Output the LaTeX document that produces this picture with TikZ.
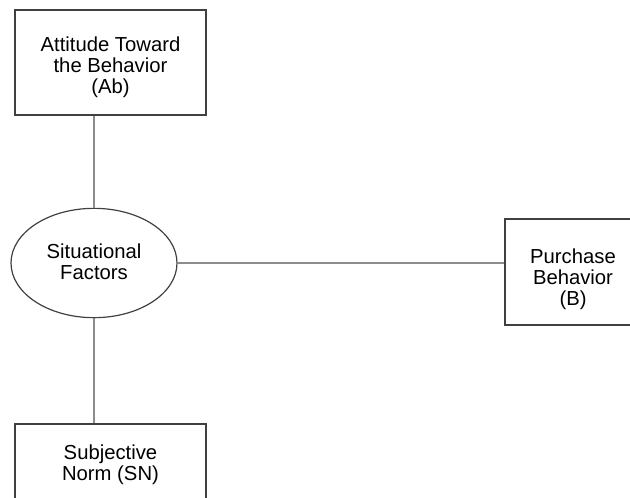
\documentclass[tikz,border=0pt]{standalone}
\usepackage{fontspec}
\setmainfont{Liberation Sans}
\usepackage{tikz}
\usetikzlibrary{shapes.geometric}

% text of a factor, shifted up or down from the centre of its shape
\newcommand{\factortext}[2]{\smash{\raisebox{#1}{\begin{tabular}{@{}c@{}}#2\end{tabular}}}}

\begin{document}
\begin{tikzpicture}[x=0.75pt,y=-0.75pt,
    factor/.style={draw=black!75, line width=0.9pt, fill=white, align=center,
      font=\fontsize{15.2}{15.75}\selectfont, inner sep=0pt},
    link/.style={draw=black!45, line width=1pt}]
    \useasboundingbox (0,0) rectangle (630,497);
    \clip (0,0) rectangle (630,497);
    \node[factor, minimum width=143.25pt, minimum height=78.75pt] (ab) at (110.5,62.5)
      {\factortext{-8.3pt}{Attitude Toward\\the Behavior\\(Ab)}};
    \node[factor, ellipse, minimum width=124.5pt, minimum height=82pt] (sf) at (94,263)
      {\factortext{-5pt}{Situational\\Factors}};
    \node[factor, minimum width=102pt, minimum height=79.5pt] (pb) at (573,272)
      {\factortext{-9.5pt}{Purchase\\Behavior\\(B)}};
    \node[factor, minimum width=143.25pt, minimum height=78.75pt] (sn) at (110.5,476.5)
      {\factortext{4.1pt}{Subjective\\Norm (SN)}};
    \draw[link] (sf.north) -- (sf.north |- ab.south)
    (sf.south) -- (sf.south |- sn.north)
    (sf.east) -- (sf.east -| pb.west);
  \end{tikzpicture}
\end{document}
